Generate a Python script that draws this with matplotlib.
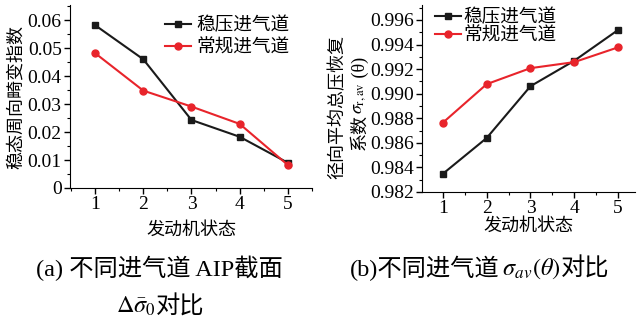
import matplotlib
matplotlib.use('Agg')
import matplotlib.pyplot as plt
from matplotlib.text import Annotation
from matplotlib.ticker import MultipleLocator

plt.rcParams['font.family'] = ['Liberation Serif', 'Noto Sans CJK SC']
plt.rcParams['mathtext.fontset'] = 'stix'

# Daten
states = [1, 2, 3, 4, 5]
labels = ['稳压进气道', '常规进气道']
distortion_stable = [0.0582, 0.0460, 0.0243, 0.0183, 0.0090]
distortion_normal = [0.0482, 0.0348, 0.0291, 0.0229, 0.0082]
recovery_stable = [0.98349, 0.98640, 0.99061, 0.99268, 0.99518]
recovery_normal = [0.98765, 0.99078, 0.99208, 0.99257, 0.99377]

W, H = 638, 321
fig = plt.figure(figsize=(W / 100, H / 100), dpi=100)


def chained(x, y, parts, size, rotation=0):
    """Text aus Stücken zusammensetzen (Mathtext kennt keine CJK-Fallbacks)."""
    prev = fig.text(x, y, parts[0], fontsize=size, rotation=rotation,
                    ha='center' if rotation else 'left',
                    va='bottom' if rotation else 'baseline')
    for p in parts[1:]:
        if rotation:
            prev = fig.add_artist(Annotation(p, xy=(0.5, 1.0), xycoords=prev, fontsize=size,
                                             rotation=rotation, ha='center', va='bottom'))
        else:
            prev = fig.add_artist(Annotation(p, xy=(1.0, 0.0), xycoords=prev, fontsize=size,
                                             ha='left', va='bottom'))


ax1 = fig.add_axes([70 / W, 133 / H, 242 / W, 183 / H])
ax2 = fig.add_axes([422 / W, 129 / H, 213 / W, 187 / H])

for ax, ys, lim in [(ax1, (distortion_stable, distortion_normal), (0, 0.0654)),
                    (ax2, (recovery_stable, recovery_normal), (0.982, 0.99722))]:
    ax.plot(states, ys[0], '-s', color='#1a1a1a', lw=1.5, ms=5, label=labels[0])
    ax.plot(states, ys[1], '-o', color='#e8242b', lw=1.5, ms=5, label=labels[1])
    ax.spines['top'].set_visible(False)
    ax.spines['right'].set_visible(False)
    ax.set_ylim(*lim)
    ax.set_xticks(states)
    ax.xaxis.set_minor_locator(MultipleLocator(0.5))
    ax.tick_params(axis='both', which='major', labelsize=14, length=4, width=1, pad=2)
    ax.tick_params(axis='both', which='minor', length=2, width=0.8)

ax1.set_xlim(0.48, 5.5)
ax1.set_yticks([0, 0.01, 0.02, 0.03, 0.04, 0.05, 0.06])
ax1.set_yticklabels(['0', '0.01', '0.02', '0.03', '0.04', '0.05', '0.06'])
ax1.yaxis.set_minor_locator(MultipleLocator(0.005))
ax1.set_ylabel('稳态周向畸变指数', fontsize=13, labelpad=2)
ax1.set_xlabel('发动机状态', fontsize=13, labelpad=6)
ax1.legend(loc='upper left', bbox_to_anchor=(165 / W, 1 - 17 / H),
           bbox_transform=fig.transFigure, frameon=False, fontsize=13.4,
           handlelength=1.4, handletextpad=0.3, labelspacing=0.25,
           borderpad=0, borderaxespad=0)

ax2.set_xlim(0.52, 5.39)
ax2.set_yticks([0.982, 0.984, 0.986, 0.988, 0.990, 0.992, 0.994, 0.996])
ax2.set_yticklabels(['0.982', '0.984', '0.986', '0.988', '0.990', '0.992', '0.994', '0.996'])
ax2.yaxis.set_minor_locator(MultipleLocator(0.001))
ax2.set_xlabel('发动机状态', fontsize=13, labelpad=0)
ax2.legend(loc='upper left', bbox_to_anchor=(435 / W, 1 - 9 / H),
           bbox_transform=fig.transFigure, frameon=False, fontsize=13.4,
           handlelength=1.4, handletextpad=0.1, labelspacing=0.05,
           borderpad=0, borderaxespad=0)

# y-Beschriftung rechts (zweizeilig)
fig.text(338 / W, 1 - 107 / H, '径向平均总压恢复', fontsize=13, rotation=90,
         ha='center', va='center')
chained(360 / W, 1 - 150 / H, ['系数', '$\\sigma_{\\rm r,av}$', ' (θ)'], 13, rotation=90)

# Bildunterschriften
fig.text(159 / W, 1 - 268 / H, '(a) 不同进气道 AIP截面', fontsize=17.5, ha='center', va='center')
chained(116 / W, 1 - 313 / H, ['$\\Delta\\bar{\\sigma}_0$', '对比'], 17.5)
chained(350 / W, 1 - 276 / H, ['(b)不同进气道', '$\\,\\sigma_{av}(\\theta)$', '对比'], 17.5)

fig.savefig('out.png', dpi=100)
